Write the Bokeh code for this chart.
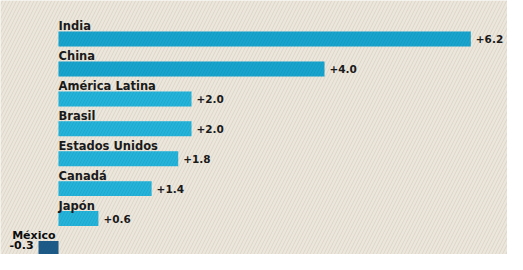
from bokeh.plotting import figure
from bokeh.models import Range1d, ColumnDataSource, BoxAnnotation
from bokeh.core.properties import value
from bokeh.embed import file_html
from bokeh.resources import INLINE

countries = ["India", "China", "América Latina", "Brasil", "Estados Unidos", "Canadá", "Japón", "México"]
growth = [6.2, 4.0, 2.0, 2.0, 1.8, 1.4, 0.6, -0.3]
labels = ["+6.2", "+4.0", "+2.0", "+2.0", "+1.8", "+1.4", "+0.6", "-0.3"]
colors = ["#17a4cd", "#17a4cd", "#24b4da", "#24b4da", "#24b4da", "#24b4da", "#24b4da", "#1d5785"]

W, H = 507, 254
px_per_unit = 66.5
x0_px = 58
x_start = -x0_px / px_per_unit
x_end = (W - x0_px) / px_per_unit
row_px = 29.9
top_px = 38.6
y_top = -top_px / row_px
y_bot = (H - top_px) / row_px

FONT = value("DejaVu Sans")

p = figure(width=W, height=H, output_backend="svg", toolbar_location=None,
           x_range=Range1d(x_start, x_end), y_range=Range1d(y_bot, y_top),
           min_border=0)
p.axis.visible = False
p.grid.visible = False
p.outline_line_color = None
p.background_fill_color = "#ece7dd"
p.border_fill_color = "#ece7dd"

p.add_layout(BoxAnnotation(fill_color=None, fill_alpha=0, line_color=None,
                           hatch_pattern="right_diagonal_line", hatch_color="#cfc6b6",
                           hatch_alpha=0.7, hatch_scale=7, hatch_weight=0.8, level="underlay"))

ypos = list(range(len(countries)))
bar_h = 0.5
src = ColumnDataSource(dict(y=ypos, v=growth, c=colors, n=countries, l=labels))
p.hbar(y="y", left=0, right="v", height=bar_h, fill_color="c", line_color=None, source=src,
       hatch_pattern="right_diagonal_line", hatch_color="#10739a", hatch_alpha=0.25,
       hatch_scale=6, hatch_weight=0.8)

pos = [i for i, v in enumerate(growth) if v >= 0]
neg = [i for i, v in enumerate(growth) if v < 0]

gap_y = 5.3 / row_px
gx = 5 / px_per_unit
ps = ColumnDataSource(dict(
    x=[0.0 for i in pos],
    y=[ypos[i] - bar_h / 2 - gap_y for i in pos],
    n=[countries[i] for i in pos],
    vx=[growth[i] + gx for i in pos],
    vy=[ypos[i] for i in pos],
    l=[labels[i] for i in pos]))
p.text(x="x", y="y", text="n", source=ps, text_font=FONT, text_font_size="11.5px",
       text_font_style="bold", text_color="#1a1a1a", text_baseline="alphabetic", text_align="left")
p.text(x="vx", y="vy", text="l", source=ps, text_font=FONT, text_font_size="10.5px",
       text_font_style="bold", text_color="#1a1a1a", text_baseline="middle", text_align="left")

ns = ColumnDataSource(dict(
    x=[-3 / px_per_unit for i in neg],
    y=[ypos[i] - bar_h / 2 - gap_y for i in neg],
    n=[countries[i] for i in neg],
    vx=[growth[i] - 5 / px_per_unit for i in neg],
    vy=[ypos[i] - 0.1 for i in neg],
    l=[labels[i] for i in neg]))
p.text(x="x", y="y", text="n", source=ns, text_font=FONT, text_font_size="11px",
       text_font_style="bold", text_color="#0d0d0d", text_baseline="alphabetic", text_align="right")
p.text(x="vx", y="vy", text="l", source=ns, text_font=FONT, text_font_size="11px",
       text_font_style="bold", text_color="#0d0d0d", text_baseline="middle", text_align="right")

open("out.html", "w").write(file_html(p, INLINE))
